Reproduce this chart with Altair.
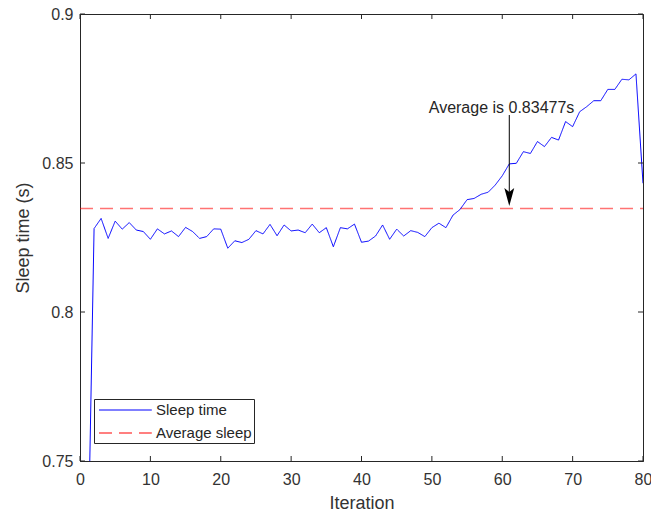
import altair as alt
import pandas as pd

# ---------------- data ----------------
iterations = list(range(1, 81))
sleep_time = [
    0.7000, 0.8280, 0.8314, 0.8247, 0.8305, 0.8278, 0.8300, 0.8275, 0.8270, 0.8244,
    0.8279, 0.8262, 0.8272, 0.8253, 0.8284, 0.8270, 0.8247, 0.8253, 0.8279, 0.8278,
    0.8214, 0.8239, 0.8233, 0.8244, 0.8273, 0.8262, 0.8294, 0.8256, 0.8292, 0.8272,
    0.8275, 0.8266, 0.8295, 0.8266, 0.8283, 0.8219, 0.8283, 0.8279, 0.8295, 0.8234,
    0.8238, 0.8255, 0.8292, 0.8244, 0.8278, 0.8255, 0.8273, 0.8267, 0.8253, 0.8283,
    0.8298, 0.8283, 0.8325, 0.8344, 0.8377, 0.8381, 0.8395, 0.8402, 0.8426, 0.8457,
    0.8497, 0.8499, 0.8538, 0.8532, 0.8572, 0.8555, 0.8586, 0.8577, 0.8639, 0.8622,
    0.8672, 0.8689, 0.8709, 0.8709, 0.8747, 0.8747, 0.8781, 0.8779, 0.8799, 0.8432,
]
avg_value = 0.83477
avg_x = [0, 80]
series_names = ["Sleep time", "Average sleep"]
x_ticks = [0, 10, 20, 30, 40, 50, 60, 70, 80]
y_ticks = [0.75, 0.80, 0.85, 0.90]
annotation_text = "Average is 0.83477s"
annotation_pos = [59.9, 0.8668]
arrow_x = 61
arrow_top = 0.8661
arrow_head_center = 0.8386

# ---------------- layout ----------------
W, H = 563, 447
FONT = "Liberation Sans"
AX = "#262626"

sleep_df = pd.DataFrame({"Iteration": iterations, "Sleep": sleep_time, "series": series_names[0]})
avg_df = pd.DataFrame({"Iteration": avg_x, "Sleep": [avg_value] * len(avg_x), "series": series_names[1]})
xt_df = pd.DataFrame({"Iteration": x_ticks})
yt_df = pd.DataFrame({"Sleep": y_ticks})
ann_df = pd.DataFrame({"Iteration": [annotation_pos[0]], "Sleep": [annotation_pos[1]], "label": [annotation_text]})
arrow_df = pd.DataFrame({"Iteration": [arrow_x], "Sleep": [arrow_top], "Sleep2": [arrow_head_center]})
head_df = pd.DataFrame({"Iteration": [arrow_x], "Sleep": [arrow_head_center]})

x_enc = alt.X(
    "Iteration:Q",
    scale=alt.Scale(domain=[0, 80], nice=False, zero=False),
    axis=alt.Axis(values=x_ticks, title="Iteration", labelPadding=10, titlePadding=7, labelFlush=False),
)
y_enc = alt.Y(
    "Sleep:Q",
    scale=alt.Scale(domain=[0.75, 0.9], nice=False, zero=False),
    axis=alt.Axis(values=y_ticks, format=".2~f", title="Sleep time (s)", labelPadding=7, titlePadding=9,
                  labelFlush=False),
)

legend = alt.Legend(
    orient="none", legendX=14, legendY=385, title=None,
    symbolType="M -3.3 0 L 3.3 0", symbolSize=256, symbolStrokeWidth=1.2,
    symbolOffset=20.4, labelOffset=21.6, padding=2, rowPadding=6,
    strokeColor=AX, fillColor="white", labelFontSize=15, labelFont=FONT,
    labelColor=AX, symbolOpacity=1, cornerRadius=0,
)
color_enc = alt.Color(
    "series:N",
    scale=alt.Scale(domain=series_names, range=["#0000ff", "#ff0000"]),
    legend=legend,
)
dash_enc = alt.StrokeDash(
    "series:N",
    scale=alt.Scale(domain=series_names, range=[[1, 0], [13, 7]]),
    legend=legend,
)

avg_line = alt.Chart(avg_df).mark_line(strokeWidth=1.5, opacity=0.55).encode(
    x=x_enc, y=y_enc, color=color_enc, strokeDash=dash_enc
)
sleep_line = alt.Chart(sleep_df).mark_line(strokeWidth=1, clip=True).encode(
    x=x_enc, y=y_enc, color=color_enc, strokeDash=dash_enc
)
shaft = alt.Chart(arrow_df).mark_rule(color="black", strokeWidth=1).encode(
    x=x_enc, y=y_enc, y2="Sleep2:Q"
)
head = alt.Chart(head_df).mark_point(
    shape="M -0.55 -1 L 0 1 L 0.55 -1 L 0 -0.55 Z", filled=True, color="black", opacity=1, size=324
).encode(x=x_enc, y=y_enc)
text = alt.Chart(ann_df).mark_text(
    align="center", baseline="alphabetic", fontSize=16, font=FONT, color=AX
).encode(x=x_enc, y=y_enc, text="label:N")

xt_bottom = alt.Chart(xt_df).mark_rule(color=AX, strokeWidth=1).encode(
    x=x_enc, y=alt.value(H), y2=alt.value(H - 5))
xt_top = alt.Chart(xt_df).mark_rule(color=AX, strokeWidth=1).encode(
    x=x_enc, y=alt.value(0), y2=alt.value(5))
yt_left = alt.Chart(yt_df).mark_rule(color=AX, strokeWidth=1).encode(
    y=y_enc, x=alt.value(0), x2=alt.value(5))
yt_right = alt.Chart(yt_df).mark_rule(color=AX, strokeWidth=1).encode(
    y=y_enc, x=alt.value(W - 5), x2=alt.value(W))

chart = alt.layer(
    avg_line, sleep_line, shaft, head, text, xt_bottom, xt_top, yt_left, yt_right
).properties(
    width=W, height=H,
    autosize=alt.AutoSizeParams(type="none"),
    padding={"left": 80, "top": 14, "right": 8, "bottom": 54},
    background="white",
).configure_view(
    stroke=AX, strokeWidth=1
).configure_axis(
    grid=False, ticks=False, tickSize=0, domainColor=AX, domainWidth=1,
    labelFont=FONT, labelFontSize=16, labelColor="#333333",
    titleFont=FONT, titleFontSize=18, titleFontWeight="normal", titleColor="#333333",
)

chart.save("out.html", embed_options={"renderer": "svg", "actions": False})
